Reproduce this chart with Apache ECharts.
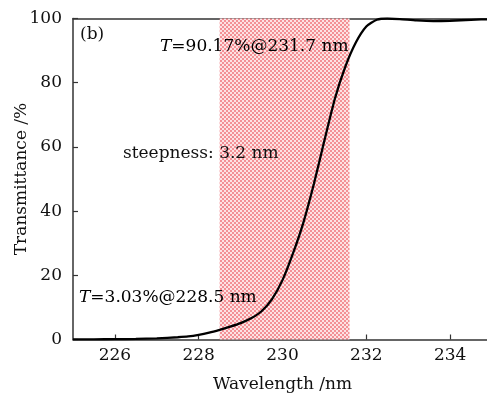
<!DOCTYPE html>
<html>
<head>
<meta charset="utf-8">
<script src="https://cdn.jsdelivr.net/npm/echarts@6/dist/echarts.min.js"></script>
<style>html,body{margin:0;padding:0;background:#fff;}#c{width:487px;height:395px;}</style>
</head>
<body>
<div id="c"></div>
<script>
// Data
var wavelength = [225.0, 225.5, 226.0, 226.5, 227.0, 227.5, 227.75, 228.0, 228.25, 228.5, 228.75, 229.0, 229.25, 229.5, 229.75, 230.0, 230.25, 230.5, 230.75, 231.0, 231.25, 231.5, 231.75, 232.0, 232.25, 232.5, 232.8, 233.2, 233.6, 234.0, 234.5, 235.0];
var transmittance = [0.02, 0.05, 0.1, 0.18, 0.34, 0.7, 0.95, 1.45, 2.15, 3.03, 4.0, 5.1, 6.6, 8.8, 12.6, 18.5, 26.8, 36.5, 48.5, 62.0, 75.0, 85.0, 92.5, 97.5, 99.6, 100.0, 99.8, 99.4, 99.2, 99.3, 99.6, 99.8];
var shadeRange = [228.5, 231.6];
var xTicks = [226, 228, 230, 232, 234];
var yTicks = [0, 20, 40, 60, 80, 100];
var labelPanel = '(b)';
var labelTop = ['T', '=90.17%@231.7 nm'];
var labelMid = 'steepness: 3.2 nm';
var labelLow = ['T', '=3.03%@228.5 nm'];

var FONT = 'DejaVu Serif';
var FS = 17;
var TXT = '#111';
var points = wavelength.map(function (w, i) { return [w, transmittance[i]]; });

// hatch pattern for the shaded band
var pc = document.createElement('canvas');
pc.width = 4; pc.height = 4;
var pctx = pc.getContext('2d');
pctx.fillStyle = '#fde2e3'; pctx.fillRect(0, 0, 4, 4);
pctx.fillStyle = '#f39095';
pctx.fillRect(0, 0, 2, 2); pctx.fillRect(2, 2, 2, 2);

var chart = echarts.init(document.getElementById('c'), null, {renderer: 'canvas'});
var axisLine = {show: true, lineStyle: {color: '#333', width: 1.5}};
var rich = {i: {fontFamily: FONT, fontSize: FS, fontStyle: 'italic', color: TXT},
            n: {fontFamily: FONT, fontSize: FS, color: TXT}};
chart.setOption({
  animation: false,
  backgroundColor: '#fff',
  grid: {left: 73, right: -5, top: 18.5, bottom: 55.5, outerBoundsMode: 'none', containLabel: false},
  xAxis: [{
    type: 'value', min: 225, max: 235,
    axisLine: axisLine,
    axisTick: {show: true, inside: true, length: 5, lineStyle: {color: '#333', width: 1.2}, customValues: xTicks},
    axisLabel: {fontFamily: FONT, fontSize: FS, color: TXT, margin: 8, customValues: xTicks},
    splitLine: {show: false},
    name: 'Wavelength /nm', nameLocation: 'middle', nameGap: 37,
    nameTextStyle: {fontFamily: FONT, fontSize: FS, color: TXT}
  }, {
    type: 'value', min: 225, max: 235, position: 'top',
    axisLine: axisLine, axisTick: {show: false}, axisLabel: {show: false}, splitLine: {show: false}
  }],
  yAxis: [{
    type: 'value', min: 0, max: 100, interval: 20,
    axisLine: axisLine,
    axisTick: {show: true, inside: true, length: 5, lineStyle: {color: '#333', width: 1.2}},
    axisLabel: {fontFamily: FONT, fontSize: FS, color: TXT, margin: 11},
    splitLine: {show: false},
    name: 'Transmittance /%', nameLocation: 'middle', nameGap: 51, nameMoveOverlap: false,
    nameTextStyle: {fontFamily: FONT, fontSize: FS, color: TXT, verticalAlign: 'middle'}
  }],
  series: [{
    type: 'line', data: points, smooth: 0.2, showSymbol: false,
    lineStyle: {color: '#000', width: 2.3}, z: 5,
    markArea: {
      silent: true,
      itemStyle: {color: {image: pc, repeat: 'repeat'}},
      data: [[{xAxis: shadeRange[0]}, {xAxis: shadeRange[1]}]]
    }
  }],
  graphic: [
    {type: 'text', left: 80, top: 26, z: 10, style: {text: labelPanel, font: FS + 'px "DejaVu Serif"', fill: TXT}},
    {type: 'text', left: 160, top: 38, z: 10, style: {text: '{i|' + labelTop[0] + '}{n|' + labelTop[1] + '}', rich: rich}},
    {type: 'text', left: 123, top: 145, z: 10, style: {text: labelMid, font: FS + 'px "DejaVu Serif"', fill: TXT}},
    {type: 'text', left: 79, top: 289, z: 10, style: {text: '{i|' + labelLow[0] + '}{n|' + labelLow[1] + '}', rich: rich}}
  ]
});
</script>
</body>
</html>
